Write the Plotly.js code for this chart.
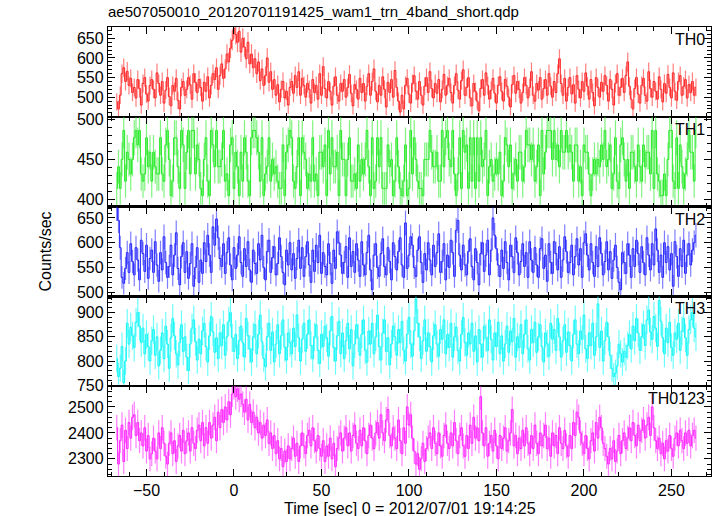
<!DOCTYPE html>
<html><head><meta charset="utf-8">
<script src="https://cdn.plot.ly/plotly-3.0.1.min.js"></script>
<style>html,body{margin:0;padding:0;background:#fff}#chart{width:717px;height:516px}</style>
</head><body><div id="chart"></div>
<script>
const T_START = -67;
const BIN = 1;
const bandNames = ["TH0", "TH1", "TH2", "TH3", "TH0123"];
const xTicks = [-50, 0, 50, 100, 150, 200, 250];
const yTickSets = [[500, 550, 600, 650], [400, 450, 500], [500, 550, 600, 650], [750, 800, 850, 900], [2300, 2400, 2500]];

const th0 = [
488,470,505,560,575,540,566,530,548,512,
525,498,545,522,480,535,550,508,490,530,
545,520,498,562,535,505,540,485,518,550,
502,478,530,515,548,492,470,525,540,505,
520,550,532,495,560,538,512,545,525,490,
538,515,552,498,530,560,545,575,520,555,
585,548,572,610,590,625,645,675,660,640,
668,615,650,628,598,640,585,610,575,598,
560,590,542,572,530,555,600,538,565,520,
545,505,532,488,520,540,498,515,480,525,
540,510,555,525,565,505,548,530,500,535,
520,485,545,512,530,495,560,505,578,522,
498,540,515,480,528,552,505,490,535,515,
545,500,525,558,510,478,532,520,495,548,
512,535,490,528,560,505,540,572,515,488,
530,505,552,520,475,538,512,545,500,568,
525,490,462,505,470,530,548,508,485,535,
555,515,495,540,505,480,528,550,512,565,
522,498,535,510,545,488,520,558,505,530,
548,512,485,530,560,518,495,542,570,505,
525,550,498,478,535,515,490,465,522,545,
505,562,530,495,518,548,510,485,530,552,
515,490,545,528,500,475,532,555,510,540,
520,485,512,550,530,498,525,565,505,490,
535,518,550,495,522,545,505,560,528,500,
540,512,560,598,535,505,548,490,525,550,
508,532,485,555,520,498,540,515,562,528,
495,545,512,478,550,525,500,538,515,555,
530,490,545,520,480,535,560,505,525,548,
512,555,590,528,495,470,522,550,508,485,
530,548,505,490,565,522,500,540,515,495,
552,520,488,535,510,558,525,498,562,515,
492,540,555,505,528,545,498,532,512,540,
505,525];

const th1 = [
414,441,414,450,486,423,459,450,432,450,
477,486,468,486,432,423,432,477,441,459,
423,459,441,432,432,477,432,423,468,486,
450,405,423,477,477,441,414,486,468,414,
459,486,432,486,486,432,468,450,414,405,
450,477,423,405,486,468,441,486,441,441,
450,486,423,432,405,468,477,414,459,441,
405,459,423,477,459,423,405,477,486,486,
477,459,423,477,405,432,441,477,423,450,
432,441,423,414,414,468,405,459,468,486,
477,423,414,441,477,405,477,459,450,414,
432,423,477,423,432,405,459,459,441,468,
405,486,432,477,441,441,459,405,486,450,
450,405,450,477,423,423,432,414,468,423,
450,432,450,486,441,405,477,414,423,477,
441,477,414,414,414,468,441,450,405,423,
477,441,414,405,423,468,405,414,486,432,
477,450,423,414,414,405,450,450,450,486,
459,441,441,459,423,423,486,441,477,486,
450,441,486,432,405,432,477,414,486,459,
468,414,477,423,477,414,477,423,477,441,
450,486,405,441,450,423,432,450,432,459,
405,423,477,468,441,468,414,432,450,423,
459,459,423,441,486,468,468,450,468,423,
441,468,405,486,432,459,486,486,486,450,
486,450,468,441,486,459,459,486,459,468,
459,423,468,468,423,441,405,468,459,459,
432,405,432,450,432,450,441,468,450,486,
441,450,468,414,432,477,423,414,468,477,
450,423,450,414,459,459,441,423,468,441,
423,468,441,459,459,432,486,414,486,432,
423,405,405,432,405,450,486,486,423,414,
477,414,468,441,414,432,450,486,459,459,
423,486];

const th2 = [
670,645,590,530,518,548,580,540,598,562,
535,590,565,525,605,578,542,595,528,568,
585,540,602,555,522,580,545,612,560,530,
552,595,535,575,620,548,515,572,600,540,
582,528,558,598,512,550,590,520,565,538,
600,562,615,575,540,632,595,648,610,568,
552,598,538,580,610,555,525,590,548,575,
612,560,532,588,552,602,545,520,585,558,
538,598,565,615,550,525,582,605,540,570,
592,535,558,610,572,540,515,585,555,600,
545,578,528,568,605,548,590,532,572,602,
555,520,585,542,595,560,615,538,580,552,
535,598,558,518,585,548,622,600,575,538,
560,592,530,610,552,582,540,598,565,532,
602,555,535,580,615,545,505,575,598,550,
532,578,608,552,535,590,562,525,600,572,
545,582,610,555,530,640,548,575,612,595,
550,532,585,612,560,520,578,545,600,565,
535,595,552,580,618,540,562,598,525,575,
550,605,580,532,625,645,575,545,595,555,
535,582,608,552,525,588,560,515,578,600,
542,575,605,535,585,650,615,588,555,532,
585,548,602,560,525,595,572,540,610,580,
535,562,598,552,580,530,602,565,540,590,
555,530,588,608,548,575,522,598,560,538,
602,578,545,592,530,565,612,582,540,560,
595,535,572,608,555,588,530,600,618,575,
545,598,560,532,592,552,610,578,535,562,
602,545,582,528,565,595,550,520,505,580,
560,538,598,575,530,588,552,605,578,540,
592,560,535,610,575,545,598,555,628,585,
540,575,530,600,560,592,545,578,512,602,
572,532,588,552,605,538,575,598,555,585,
600,615];

const th3 = [
805,768,785,830,755,800,878,835,870,852,
828,880,900,872,838,868,815,855,830,800,
842,865,812,850,790,822,858,805,872,835,
785,848,888,852,815,792,838,875,820,850,
808,780,835,868,885,840,802,845,815,862,
878,830,798,852,892,860,818,848,805,858,
832,875,812,850,882,900,848,820,855,805,
842,872,838,808,888,852,825,798,850,875,
815,855,895,840,805,788,850,878,822,860,
798,835,875,815,852,885,828,802,858,838,
815,868,830,895,848,800,845,878,820,855,
885,832,805,850,875,822,795,855,830,872,
848,810,862,892,828,800,852,882,815,858,
805,842,878,825,865,790,835,875,848,812,
855,885,822,798,862,835,878,815,850,895,
830,802,858,885,820,848,792,835,872,850,
812,865,838,882,822,800,855,890,835,810,
862,928,878,850,805,842,885,820,858,830,
798,852,875,835,810,865,845,885,815,855,
828,878,808,850,870,822,800,855,890,838,
812,858,835,878,820,852,798,865,835,808,
872,848,822,885,845,802,858,830,880,815,
852,800,835,872,818,862,840,888,808,850,
828,875,815,855,885,825,802,865,838,880,
818,850,875,830,798,858,835,810,878,845,
865,822,888,850,808,842,875,818,860,832,
800,855,885,835,815,862,845,895,825,805,
858,832,878,812,850,918,828,862,800,842,
880,850,812,785,768,775,790,835,815,798,
820,808,832,855,825,872,842,888,858,822,
850,875,832,885,905,860,845,892,868,830,
925,882,848,815,868,838,880,828,812,858,
845,878,822,862,888,848,812,865,885,900,
868,850];

const th0123 = [
2420,2280,2370,2430,2290,2410,2340,2440,2380,2460,
2470,2390,2440,2370,2400,2350,2420,2330,2390,2300,
2320,2380,2330,2300,2400,2340,2420,2360,2310,2280,
2360,2400,2320,2370,2290,2350,2390,2330,2410,2320,
2370,2400,2330,2420,2360,2340,2410,2430,2370,2440,
2350,2420,2360,2440,2380,2430,2460,2370,2480,2420,
2490,2440,2500,2450,2520,2470,2550,2580,2540,2570,
2530,2550,2510,2480,2530,2450,2510,2440,2480,2420,
2460,2400,2440,2380,2430,2390,2450,2360,2400,2340,
2390,2320,2370,2300,2340,2270,2330,2290,2350,2300,
2340,2380,2310,2360,2290,2350,2400,2350,2320,2390,
2410,2350,2420,2370,2330,2390,2340,2310,2370,2290,
2350,2310,2380,2300,2360,2270,2340,2380,2400,2330,
2380,2420,2350,2400,2330,2390,2430,2360,2340,2410,
2350,2420,2370,2320,2390,2430,2380,2340,2400,2440,
2380,2470,2400,2370,2450,2490,2390,2350,2420,2380,
2340,2450,2370,2320,2420,2360,2500,2430,2470,2380,
2330,2280,2320,2260,2300,2360,2290,2340,2380,2400,
2340,2420,2360,2320,2400,2350,2310,2390,2430,2360,
2340,2400,2350,2440,2370,2320,2390,2420,2350,2310,
2390,2340,2430,2360,2460,2380,2420,2370,2540,2400,
2350,2420,2310,2360,2390,2330,2410,2350,2300,2390,
2340,2380,2420,2330,2370,2400,2490,2350,2390,2320,
2380,2340,2410,2350,2420,2360,2320,2390,2340,2430,
2360,2320,2400,2350,2390,2430,2340,2380,2310,2400,
2350,2390,2320,2420,2360,2340,2410,2350,2310,2390,
2340,2440,2390,2480,2460,2400,2360,2320,2390,2340,
2300,2370,2400,2330,2440,2380,2460,2420,2360,2340,
2310,2280,2340,2300,2370,2290,2330,2390,2320,2370,
2400,2340,2380,2420,2370,2440,2390,2350,2430,2370,
2410,2450,2380,2430,2460,2390,2500,2420,2370,2340,
2380,2320,2360,2300,2370,2330,2390,2340,2310,2380,
2400,2350,2410,2370,2340,2400,2360,2410,2350,2390,
2410,2380];

const series = [th0, th1, th2, th3, th0123];
const colors = ["#ff2020", "#1fe81f", "#2020ff", "#10f5f5", "#ff20ff"];
const barColors = ["rgba(255,40,40,0.6)", "rgba(40,235,40,0.6)", "rgba(40,40,255,0.6)", "rgba(30,250,250,0.65)", "rgba(255,40,255,0.6)"];
const yRanges = [[450, 679], [391.4, 503], [491.5, 673], [748, 933.5], [2234, 2580]];
const yMinor = [10, 10, 10, 10, 20];

const FONT = "Liberation Sans, Arial, Helvetica, sans-serif";
const traces = [];
const layout = {
  width: 717, height: 516,
  margin: {l: 108, r: 6, t: 27, b: 40},
  paper_bgcolor: "#fff", plot_bgcolor: "#fff",
  showlegend: false,
  font: {family: FONT, size: 16, color: "#000"},
  title: {text: "ae507050010_20120701191425_wam1_trn_4band_short.qdp",
          font: {family: FONT, size: 15, color: "#000"},
          xref: "paper", x: 0, xanchor: "left",
          yref: "container", y: 1 - 12/516, yanchor: "middle"},
  annotations: []
};

const n = series.length;
for (let k = 0; k < n; k++) {
  const vals = series[k];
  const t = vals.map((_, i) => T_START + i * BIN);
  const sfx = k === 0 ? "" : String(k + 1);
  traces.push({
    type: "scatter", mode: "lines",
    x: t, y: vals,
    xaxis: "x" + sfx, yaxis: "y" + sfx,
    line: {color: colors[k], width: 1, shape: "hvh"},
    error_y: {type: "sqrt", color: barColors[k], thickness: 1.2, width: 0},
    hoverinfo: "skip"
  });
  const top = 1 - k / n, bot = 1 - (k + 1) / n;
  layout["xaxis" + sfx] = {
    anchor: "y" + sfx, domain: [0, 1], range: [-72, 272.6],
    tickmode: "array", tickvals: xTicks,
    ticks: "inside", ticklen: 7, tickwidth: 1, tickcolor: "#000",
    minor: {dtick: 10, ticklen: 4, ticks: "inside", tickcolor: "#000"},
    showticklabels: k === n - 1,
    tickfont: {family: FONT, size: 16},
    showgrid: false, zeroline: false,
    showline: true, linecolor: "#000", linewidth: 1.2, mirror: "allticks"
  };
  if (k > 0) layout["xaxis" + sfx].matches = "x";
  layout["yaxis" + sfx] = {
    anchor: "x" + sfx, domain: [bot, top], range: yRanges[k],
    tickmode: "array", tickvals: yTickSets[k],
    ticks: "inside", ticklen: 7, tickwidth: 1, tickcolor: "#000",
    minor: {dtick: yMinor[k], tick0: 0, ticklen: 4, ticks: "inside", tickcolor: "#000"},
    tickfont: {family: FONT, size: 16},
    showgrid: false, zeroline: false,
    showline: true, linecolor: "#000", linewidth: 1.2, mirror: "allticks"
  };
  layout.annotations.push({
    text: bandNames[k], xref: "paper", yref: "paper", x: 1, y: top,
    xanchor: "right", yanchor: "top", xshift: -4, yshift: -2, showarrow: false,
    font: {family: FONT, size: 16, color: "#000"}
  });
}
layout.annotations.push({
  text: "Counts/sec", xref: "paper", yref: "paper",
  x: (45 - 108) / 603, y: 0.5, textangle: -90, showarrow: false,
  xanchor: "center", yanchor: "middle",
  font: {family: FONT, size: 16, color: "#000"}
});
layout.annotations.push({
  text: "Time [sec] 0 = 2012/07/01 19:14:25", xref: "paper", yref: "paper",
  x: 0.5, y: (476 - 508) / 449, showarrow: false,
  xanchor: "center", yanchor: "middle",
  font: {family: FONT, size: 16, color: "#000"}
});

Plotly.newPlot("chart", traces, layout, {displayModeBar: false, staticPlot: true});
</script></body></html>
